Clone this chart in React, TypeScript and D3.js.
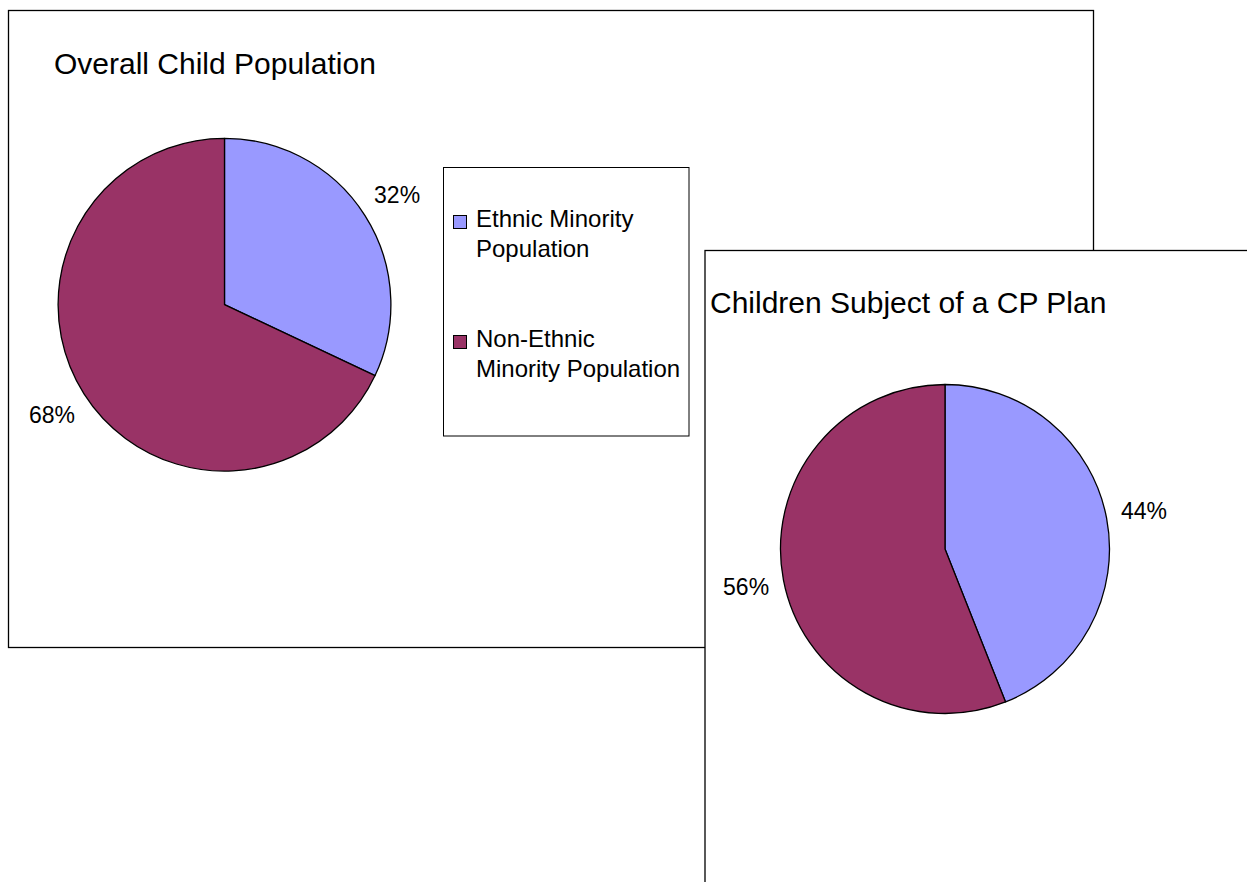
import React, { useEffect, useRef } from 'react';
import * as d3 from 'd3';

const categories = ['Ethnic Minority Population', 'Non-Ethnic Minority Population'];
const legendLines = [['Ethnic Minority', 'Population'], ['Non-Ethnic', 'Minority Population']];
const overallValues = [32, 68];
const cpPlanValues = [44, 56];
const colors = ['#9999FF', '#993366'];

const W = 1247;
const H = 882;
const FONT = '"Liberation Sans", Arial, sans-serif';

type Slice = { name: string; value: number };

const App: React.FC = () => {
    const svgRef = useRef<SVGSVGElement>(null);

    useEffect(() => {
        if (!svgRef.current) return;
        const svg = d3.select(svgRef.current);
        svg.selectAll('*').remove();

        const color = d3.scaleOrdinal<string, string>().domain(categories).range(colors);
        const pie = d3.pie<Slice>().value(d => d.value).sort(null);

        const drawPie = (cx: number, cy: number, radius: number, values: number[]) => {
            const data: Slice[] = categories.map((name, i) => ({ name, value: values[i] }));
            const arc = d3.arc<d3.PieArcDatum<Slice>>().innerRadius(0).outerRadius(radius);
            const labelArc = d3.arc<d3.PieArcDatum<Slice>>().innerRadius(radius + 38).outerRadius(radius + 38);
            const g = svg.append('g').attr('transform', `translate(${cx},${cy})`);

            g.selectAll('path')
                .data(pie(data))
                .enter()
                .append('path')
                .attr('d', arc)
                .attr('fill', d => color(d.data.name))
                .attr('stroke', '#000')
                .attr('stroke-width', 1.3)
                .attr('stroke-linejoin', 'round');

            g.selectAll('text.pct')
                .data(pie(data))
                .enter()
                .append('text')
                .attr('class', 'pct')
                .attr('transform', d => `translate(${labelArc.centroid(d)})`)
                .attr('text-anchor', 'middle')
                .attr('dy', '0.36em')
                .style('font-family', FONT)
                .style('font-size', '23px')
                .style('fill', '#000')
                .text(d => `${d.data.value}%`);
        };

        // first panel
        svg.append('rect')
            .attr('x', 8.5).attr('y', 10.5)
            .attr('width', 1085).attr('height', 637)
            .attr('fill', '#fff').attr('stroke', '#000').attr('stroke-width', 1.3);

        svg.append('text')
            .attr('x', 54).attr('y', 74)
            .style('font-family', FONT)
            .style('font-size', '30px')
            .text('Overall Child Population');

        drawPie(224.5, 304.7, 166.4, overallValues);

        // legend
        const legend = svg.append('g');
        legend.append('rect')
            .attr('x', 443.5).attr('y', 167.5)
            .attr('width', 245.5).attr('height', 268.5)
            .attr('fill', '#fff').attr('stroke', '#000').attr('stroke-width', 1);

        const items = legend.selectAll('g.item')
            .data(categories)
            .enter()
            .append('g')
            .attr('class', 'item')
            .attr('transform', (_, i) => `translate(0,${i * 120})`);

        items.append('rect')
            .attr('x', 453.5).attr('y', 215.5)
            .attr('width', 13).attr('height', 13)
            .attr('fill', d => color(d))
            .attr('stroke', '#000').attr('stroke-width', 1);

        items.each(function (_, i) {
            const t = d3.select(this).append('text')
                .style('font-family', FONT)
                .style('font-size', '24px');
            legendLines[i].forEach((line, j) => {
                t.append('tspan').attr('x', 476).attr('y', 227 + j * 30).text(line);
            });
        });

        // second panel overlapping
        svg.append('rect')
            .attr('x', 705).attr('y', 250.5)
            .attr('width', 600).attr('height', 700)
            .attr('fill', '#fff').attr('stroke', '#000').attr('stroke-width', 1.3);

        svg.append('text')
            .attr('x', 710).attr('y', 313)
            .style('font-family', FONT)
            .style('font-size', '30px')
            .text('Children Subject of a CP Plan');

        drawPie(945, 549, 164.5, cpPlanValues);
    }, []);

    return (
        <svg
            ref={svgRef}
            width={W}
            height={H}
            style={{ position: 'absolute', left: 0, top: 0, background: '#fff' }}
        />
    );
};

export default App;
